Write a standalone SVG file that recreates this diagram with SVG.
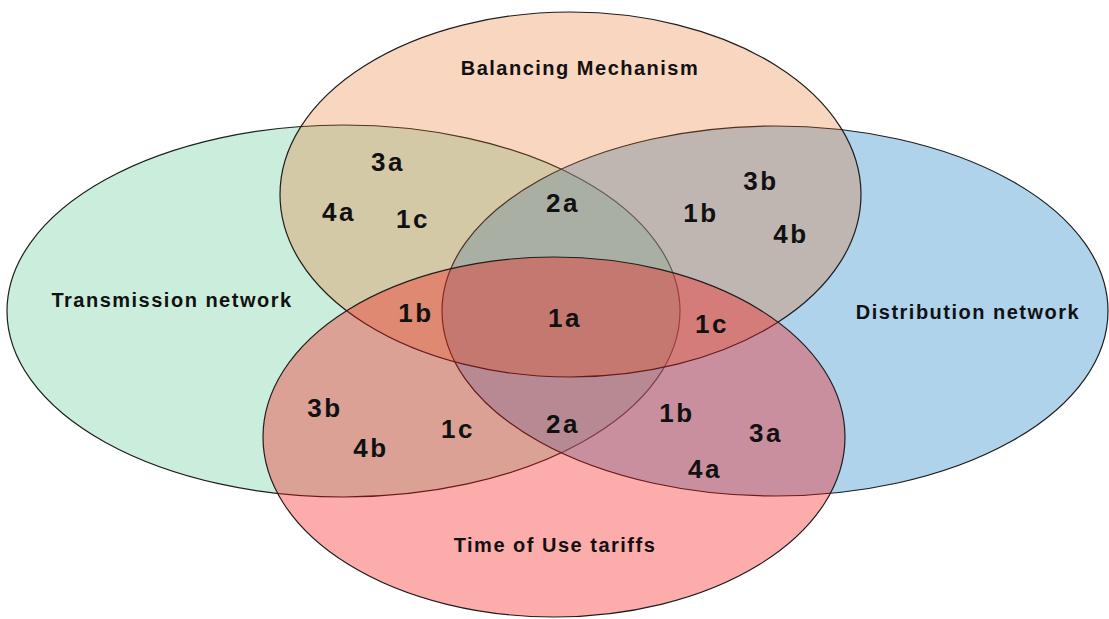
<svg xmlns="http://www.w3.org/2000/svg" width="1109" height="619" viewBox="0 0 1109 619">
  <style>
    .set { stroke: #1e1e1e; stroke-width: 1.2; }
    .name { font-family: "Liberation Sans", Arial, Helvetica, sans-serif; font-weight: bold; font-size: 20px; letter-spacing: 1.5px; fill: #111; text-anchor: middle; }
    .tag { font-family: "Liberation Sans", Arial, Helvetica, sans-serif; font-weight: bold; font-size: 26px; letter-spacing: 2.5px; fill: #111; text-anchor: middle; }
  </style>
  <rect width="1109" height="619" fill="#ffffff"/>

  <!-- Four overlapping sets, painted in order: left, right, top, bottom -->
  <g id="transmission-network">
    <ellipse class="set" cx="343.5" cy="311" rx="336.5" ry="186" fill="#8bd9b1" fill-opacity="0.45"/>
    <text class="name" x="172" y="307">Transmission network</text>
  </g>
  <g id="distribution-network">
    <ellipse class="set" cx="775" cy="311" rx="333" ry="185" fill="#4f9dd5" fill-opacity="0.45"/>
    <text class="name" x="968" y="318.5">Distribution network</text>
  </g>
  <g id="balancing-mechanism">
    <ellipse class="set" cx="570.5" cy="194.5" rx="290.5" ry="182.5" fill="#e96716" fill-opacity="0.27"/>
    <text class="name" x="580" y="74.5">Balancing Mechanism</text>
  </g>
  <g id="time-of-use-tariffs">
    <ellipse class="set" cx="554" cy="437" rx="291" ry="180" fill="#f91212" fill-opacity="0.35"/>
    <text class="name" x="555" y="551.5">Time of Use tariffs</text>
  </g>

  <!-- Region codes -->
  <g id="region-codes">
    <text class="tag" x="388" y="171">3a</text>
    <text class="tag" x="339" y="221">4a</text>
    <text class="tag" x="413" y="228">1c</text>
    <text class="tag" x="563" y="212">2a</text>
    <text class="tag" x="701" y="222">1b</text>
    <text class="tag" x="761" y="190">3b</text>
    <text class="tag" x="791" y="243">4b</text>
    <text class="tag" x="416" y="322">1b</text>
    <text class="tag" x="565" y="327">1a</text>
    <text class="tag" x="712" y="333">1c</text>
    <text class="tag" x="325" y="417">3b</text>
    <text class="tag" x="371" y="457">4b</text>
    <text class="tag" x="458" y="438">1c</text>
    <text class="tag" x="563" y="433">2a</text>
    <text class="tag" x="677" y="422">1b</text>
    <text class="tag" x="766" y="442">3a</text>
    <text class="tag" x="705" y="478">4a</text>
  </g>
</svg>
